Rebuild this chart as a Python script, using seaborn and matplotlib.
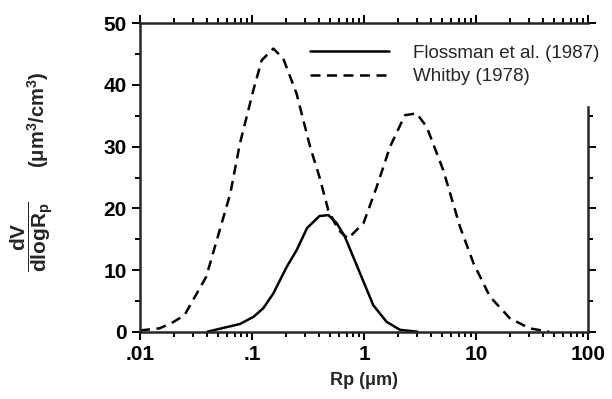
import numpy as np
import pandas as pd
import seaborn as sns
import matplotlib.pyplot as plt
from matplotlib.ticker import LogLocator, FixedLocator, NullFormatter

# ======================
# Data
# ======================

whitby_rp = [0.01, 0.015, 0.02, 0.025, 0.039, 0.064, 0.078, 0.103, 0.122, 0.155,
             0.19, 0.25, 0.33, 0.40, 0.48, 0.59, 0.72, 0.99, 1.30, 1.71, 2.32,
             2.95, 3.63, 5.1, 7.2, 9.5, 13.3, 20.0, 30.0, 45.0]
whitby_dv = [0.2, 0.55, 1.6, 2.7, 8.9, 22.4, 30.5, 39.2, 44.0, 45.9,
             44.3, 38.6, 30.0, 25.1, 19.7, 16.5, 15.1, 17.6, 23.5, 30.0, 35.1,
             35.4, 33.2, 26.2, 17.0, 11.1, 5.7, 2.2, 0.55, 0.0]

floss_rp = [0.04, 0.078, 0.103, 0.126, 0.155, 0.204, 0.25, 0.31, 0.40, 0.48,
            0.57, 0.675, 0.92, 1.21, 1.59, 2.1, 3.0]
floss_dv = [0.0, 1.25, 2.4, 3.8, 6.2, 10.5, 13.2, 16.8, 18.75, 18.9,
            17.6, 15.4, 9.5, 4.3, 1.6, 0.3, 0.0]

x_ticks = [0.01, 0.1, 1, 10, 100]
x_tick_labels = [".01", ".1", "1", "10", "100"]
y_ticks = [0, 10, 20, 30, 40, 50]

# ======================
# Style
# ======================

sns.set_style("ticks")
plt.rcParams["font.family"] = ["Liberation Sans", "DejaVu Sans"]
plt.rcParams["mathtext.fontset"] = "custom"
plt.rcParams["mathtext.rm"] = "Liberation Sans:bold"
plt.rcParams["mathtext.it"] = "Liberation Sans:bold"
plt.rcParams["mathtext.bf"] = "Liberation Sans:bold"

fig = plt.figure(figsize=(6.12, 3.99), dpi=100)
ax = fig.add_axes([140 / 612, 1 - 331.7 / 399, 448 / 612, 308.4 / 399])

sns.lineplot(x=floss_rp, y=floss_dv, ax=ax, color="black", lw=1.8,
             label="Flossman et al. (1987)")
sns.lineplot(x=whitby_rp, y=whitby_dv, ax=ax, color="black", lw=1.8,
             linestyle=(0, (4, 2.6)), label="Whitby (1978)")

ax.set_xscale("log")
ax.set_xlim(0.01, 100)
ax.set_ylim(0, 50)

ax.xaxis.set_major_locator(FixedLocator(x_ticks))
ax.set_xticklabels(x_tick_labels)
ax.xaxis.set_minor_locator(LogLocator(base=10, subs=np.arange(2, 10)))
ax.xaxis.set_minor_formatter(NullFormatter())
ax.set_yticks(y_ticks)
ax.yaxis.set_minor_locator(FixedLocator(np.arange(5, 50, 10)))

for side in ["top", "right", "left", "bottom"]:
    ax.spines[side].set_visible(True)
    ax.spines[side].set_linewidth(1.8)
# right edge is broken where the legend text runs over it
ax.spines["right"].set_bounds(0, 36.5)

ax.tick_params(which="both", direction="out", top=True, right=True,
               width=1.4, colors="black")
ax.tick_params(which="major", length=6)
ax.tick_params(which="minor", length=3.5)
for lbl in ax.get_xticklabels() + ax.get_yticklabels():
    lbl.set_fontsize(15)
    lbl.set_fontweight("bold")

for t in ax.yaxis.get_major_ticks() + ax.yaxis.get_minor_ticks():
    if 36.5 < t.get_loc() < 50:
        t.tick2line.set_visible(False)

ax.set_xlabel("Rp (\u03bcm)", fontsize=13, fontweight="bold", labelpad=6)
ax.set_ylabel("")

fig.text(32 / 612, 1 - 237 / 399, r"$\dfrac{dV}{dlogR_p}$", rotation=90,
         fontsize=15, ha="center", va="center")
fig.text(38 / 612, 1 - 120 / 399, "(\u03bcm$^3$/cm$^3$)", rotation=90,
         fontsize=14.5, fontweight="bold", ha="center", va="center")

ax.legend(loc="center left", bbox_to_anchor=(310 / 612, 1 - 65 / 399),
          bbox_transform=fig.transFigure, frameon=False, fontsize=13.5,
          handlelength=4.2, handletextpad=1.3, labelspacing=0.35,
          borderpad=0, borderaxespad=0)

fig.savefig("out.png", dpi=100)
plt.close()
